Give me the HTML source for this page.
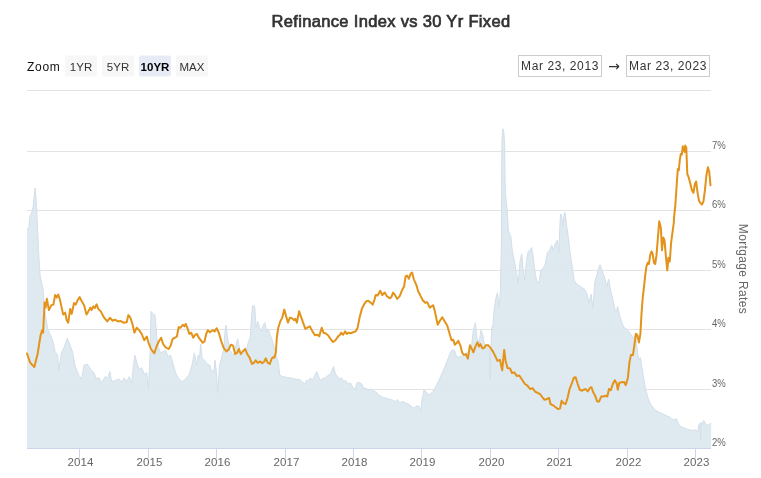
<!DOCTYPE html>
<html><head><meta charset="utf-8"><title>Refinance Index vs 30 Yr Fixed</title>
<style>html,body{margin:0;padding:0;background:#fff;width:761px;height:478px;overflow:hidden}</style></head>
<body>
<svg width="761" height="478" viewBox="0 0 761 478" style="position:absolute;left:0;top:0;font-family:'Liberation Sans','DejaVu Sans',sans-serif">
<rect width="761" height="478" fill="#fff"/>
<path d="M27 90.5 L711 90.5" stroke="#e3e3e3" stroke-width="1" fill="none"/>
<path d="M27 151.5 L711 151.5" stroke="#e3e3e3" stroke-width="1" fill="none"/>
<path d="M27 210.5 L711 210.5" stroke="#e3e3e3" stroke-width="1" fill="none"/>
<path d="M27 270.5 L711 270.5" stroke="#e3e3e3" stroke-width="1" fill="none"/>
<path d="M27 329.5 L711 329.5" stroke="#e3e3e3" stroke-width="1" fill="none"/>
<path d="M27 389.5 L711 389.5" stroke="#e3e3e3" stroke-width="1" fill="none"/>
<path d="M27.0 229.2 L29.0 227.7 L29.5 217.7 L31.3 213.9 L33.1 207.1 L34.3 195.1 L35.1 188.0 L35.8 195.1 L36.6 207.6 L37.6 230.3 L38.8 255.4 L40.1 275.5 L41.6 283.0 L42.6 285.5 L45.1 312.6 L47.6 328.9 L50.1 334.0 L52.6 340.2 L55.1 351.5 L57.7 355.3 L58.9 370.4 L61.4 352.8 L63.9 347.8 L67.2 338.2 L70.2 345.3 L72.7 352.8 L75.2 366.6 L79.0 375.4 L81.5 379.1 L84.0 365.3 L87.3 364.1 L90.3 369.1 L94.0 372.9 L96.6 379.1 L99.1 377.9 L101.6 382.9 L105.3 376.6 L107.9 377.9 L109.9 371.6 L111.6 381.7 L115.4 380.4 L119.1 379.1 L121.7 381.7 L124.2 377.9 L126.7 381.7 L129.2 376.6 L131.7 382.9 L133.5 365.3 L135.0 355.3 L136.7 362.8 L139.2 369.1 L141.7 367.9 L144.2 374.1 L146.8 372.9 L148.5 389.2 L150.0 355.3 L151.0 311.4 L153.0 313.9 L155.0 315.1 L156.8 337.7 L158.6 347.8 L160.6 352.8 L163.6 351.5 L165.6 350.3 L168.1 356.6 L170.6 355.3 L173.1 364.1 L175.6 372.9 L178.1 377.9 L181.9 381.7 L185.7 379.1 L189.4 374.1 L191.9 365.3 L194.4 352.8 L196.5 365.3 L198.2 355.3 L199.5 357.8 L200.7 344.0 L202.0 357.8 L204.5 360.3 L207.0 364.1 L210.0 365.3 L211.3 370.3 L213.8 371.6 L215.1 360.3 L216.6 375.3 L217.6 392.9 L219.6 365.3 L222.1 355.3 L223.8 349.0 L225.1 330.2 L226.1 325.1 L227.6 337.7 L229.6 349.0 L231.4 352.8 L233.9 355.3 L236.4 342.7 L237.7 338.9 L239.7 349.0 L241.4 355.3 L243.9 352.8 L246.4 350.2 L248.2 342.7 L250.2 337.7 L251.7 315.1 L252.7 305.6 L254.7 306.3 L256.2 327.7 L257.7 321.4 L259.7 327.7 L261.5 331.4 L263.3 325.1 L264.8 322.6 L266.5 331.4 L268.3 328.9 L270.3 335.2 L272.3 340.2 L274.0 347.7 L276.6 356.5 L278.3 362.8 L279.8 375.3 L282.8 376.6 L286.6 377.3 L290.4 377.9 L295.4 379.1 L300.4 379.9 L302.9 382.4 L304.9 384.1 L306.7 379.9 L308.4 381.6 L310.4 377.9 L312.4 380.4 L314.2 376.6 L316.7 371.6 L318.5 376.6 L320.5 380.4 L323.0 378.4 L325.5 377.9 L328.0 375.3 L330.5 374.1 L333.5 366.6 L335.5 374.1 L337.6 376.6 L339.3 379.1 L341.8 377.9 L343.6 381.6 L345.6 380.4 L348.1 384.1 L350.6 382.9 L353.1 387.9 L355.1 389.1 L356.9 382.9 L359.4 382.4 L361.9 384.1 L363.7 389.1 L365.7 387.9 L368.2 390.4 L370.7 389.1 L373.2 390.4 L375.7 391.7 L379.5 395.4 L383.2 397.4 L387.0 398.4 L390.0 399.4 L392.8 400.2 L395.3 401.5 L397.3 399.5 L399.8 402.8 L402.8 401.5 L405.3 402.8 L408.3 404.0 L411.6 406.5 L414.1 408.3 L416.6 405.8 L419.1 406.5 L420.9 410.3 L422.4 397.7 L423.9 390.2 L425.9 391.5 L427.9 394.7 L430.4 394.0 L432.9 391.5 L435.4 387.7 L438.4 381.4 L441.7 373.9 L445.0 366.4 L448.0 358.8 L451.0 351.3 L453.0 349.5 L455.0 351.3 L456.8 357.6 L460.5 356.3 L464.3 355.1 L466.8 352.6 L469.3 351.3 L471.6 345.3 L473.4 330.3 L475.4 322.8 L476.9 337.8 L479.1 342.8 L480.9 330.3 L482.9 335.3 L484.0 343.0 L487.0 347.0 L489.4 350.0 L490.2 380.0 L490.9 349.0 L491.8 328.0 L493.0 325.0 L493.9 312.5 L494.8 305.0 L496.0 297.7 L497.5 292.6 L499.0 307.7 L500.5 290.1 L500.6 280.2 L501.4 245.1 L501.6 195.3 L501.9 145.1 L502.4 132.6 L503.1 128.8 L503.9 132.6 L504.6 145.1 L505.1 182.8 L505.6 195.3 L507.1 209.1 L508.4 230.4 L510.9 236.7 L512.2 250.1 L514.7 262.7 L516.4 272.7 L518.2 282.8 L520.2 260.2 L521.7 253.9 L523.2 270.2 L524.7 280.2 L526.5 260.2 L528.2 251.4 L530.2 250.1 L531.7 247.6 L533.3 257.7 L534.8 270.2 L536.5 280.2 L539.0 282.8 L540.8 270.2 L542.8 268.9 L545.3 263.9 L547.3 252.6 L549.8 250.1 L551.6 245.1 L553.3 250.1 L555.3 243.8 L557.3 240.1 L558.9 252.6 L559.9 225.0 L560.6 214.1 L561.4 214.9 L562.9 225.4 L564.1 214.1 L565.1 212.4 L566.6 225.4 L568.4 238.0 L570.4 255.1 L572.4 267.7 L574.2 280.2 L576.7 284.0 L580.4 286.5 L584.2 289.0 L586.7 292.8 L589.2 302.8 L591.0 294.0 L593.0 307.9 L594.7 282.8 L596.8 275.2 L598.5 268.9 L600.0 264.7 L601.8 270.2 L604.3 276.5 L606.8 286.5 L608.6 279.0 L610.6 290.3 L613.1 300.3 L615.6 312.9 L617.6 306.6 L619.3 314.1 L621.9 322.9 L624.4 327.9 L626.9 329.2 L630.6 334.2 L633.2 338.0 L635.4 335.0 L637.9 355.1 L639.1 360.1 L640.4 357.6 L642.4 370.2 L644.2 381.5 L645.9 390.2 L647.9 397.8 L649.9 402.8 L652.4 406.6 L655.5 410.3 L659.2 412.3 L663.0 414.1 L666.8 415.8 L670.0 417.3 L671.8 419.1 L674.3 419.9 L676.3 418.4 L678.1 422.9 L680.6 426.6 L684.3 427.9 L688.1 429.6 L691.9 430.4 L695.6 429.9 L697.6 431.7 L699.1 424.1 L700.1 423.4 L700.6 440.4 L701.1 422.4 L702.1 424.9 L703.7 420.4 L705.7 424.1 L708.2 425.4 L710.2 423.4 L711.2 423.4 L711.2 448.5 L27.0 448.5 Z" fill="rgb(219,231,238)" fill-opacity="0.9" stroke="none"/>
<path d="M27.0 229.2 L29.0 227.7 L29.5 217.7 L31.3 213.9 L33.1 207.1 L34.3 195.1 L35.1 188.0 L35.8 195.1 L36.6 207.6 L37.6 230.3 L38.8 255.4 L40.1 275.5 L41.6 283.0 L42.6 285.5 L45.1 312.6 L47.6 328.9 L50.1 334.0 L52.6 340.2 L55.1 351.5 L57.7 355.3 L58.9 370.4 L61.4 352.8 L63.9 347.8 L67.2 338.2 L70.2 345.3 L72.7 352.8 L75.2 366.6 L79.0 375.4 L81.5 379.1 L84.0 365.3 L87.3 364.1 L90.3 369.1 L94.0 372.9 L96.6 379.1 L99.1 377.9 L101.6 382.9 L105.3 376.6 L107.9 377.9 L109.9 371.6 L111.6 381.7 L115.4 380.4 L119.1 379.1 L121.7 381.7 L124.2 377.9 L126.7 381.7 L129.2 376.6 L131.7 382.9 L133.5 365.3 L135.0 355.3 L136.7 362.8 L139.2 369.1 L141.7 367.9 L144.2 374.1 L146.8 372.9 L148.5 389.2 L150.0 355.3 L151.0 311.4 L153.0 313.9 L155.0 315.1 L156.8 337.7 L158.6 347.8 L160.6 352.8 L163.6 351.5 L165.6 350.3 L168.1 356.6 L170.6 355.3 L173.1 364.1 L175.6 372.9 L178.1 377.9 L181.9 381.7 L185.7 379.1 L189.4 374.1 L191.9 365.3 L194.4 352.8 L196.5 365.3 L198.2 355.3 L199.5 357.8 L200.7 344.0 L202.0 357.8 L204.5 360.3 L207.0 364.1 L210.0 365.3 L211.3 370.3 L213.8 371.6 L215.1 360.3 L216.6 375.3 L217.6 392.9 L219.6 365.3 L222.1 355.3 L223.8 349.0 L225.1 330.2 L226.1 325.1 L227.6 337.7 L229.6 349.0 L231.4 352.8 L233.9 355.3 L236.4 342.7 L237.7 338.9 L239.7 349.0 L241.4 355.3 L243.9 352.8 L246.4 350.2 L248.2 342.7 L250.2 337.7 L251.7 315.1 L252.7 305.6 L254.7 306.3 L256.2 327.7 L257.7 321.4 L259.7 327.7 L261.5 331.4 L263.3 325.1 L264.8 322.6 L266.5 331.4 L268.3 328.9 L270.3 335.2 L272.3 340.2 L274.0 347.7 L276.6 356.5 L278.3 362.8 L279.8 375.3 L282.8 376.6 L286.6 377.3 L290.4 377.9 L295.4 379.1 L300.4 379.9 L302.9 382.4 L304.9 384.1 L306.7 379.9 L308.4 381.6 L310.4 377.9 L312.4 380.4 L314.2 376.6 L316.7 371.6 L318.5 376.6 L320.5 380.4 L323.0 378.4 L325.5 377.9 L328.0 375.3 L330.5 374.1 L333.5 366.6 L335.5 374.1 L337.6 376.6 L339.3 379.1 L341.8 377.9 L343.6 381.6 L345.6 380.4 L348.1 384.1 L350.6 382.9 L353.1 387.9 L355.1 389.1 L356.9 382.9 L359.4 382.4 L361.9 384.1 L363.7 389.1 L365.7 387.9 L368.2 390.4 L370.7 389.1 L373.2 390.4 L375.7 391.7 L379.5 395.4 L383.2 397.4 L387.0 398.4 L390.0 399.4 L392.8 400.2 L395.3 401.5 L397.3 399.5 L399.8 402.8 L402.8 401.5 L405.3 402.8 L408.3 404.0 L411.6 406.5 L414.1 408.3 L416.6 405.8 L419.1 406.5 L420.9 410.3 L422.4 397.7 L423.9 390.2 L425.9 391.5 L427.9 394.7 L430.4 394.0 L432.9 391.5 L435.4 387.7 L438.4 381.4 L441.7 373.9 L445.0 366.4 L448.0 358.8 L451.0 351.3 L453.0 349.5 L455.0 351.3 L456.8 357.6 L460.5 356.3 L464.3 355.1 L466.8 352.6 L469.3 351.3 L471.6 345.3 L473.4 330.3 L475.4 322.8 L476.9 337.8 L479.1 342.8 L480.9 330.3 L482.9 335.3 L484.0 343.0 L487.0 347.0 L489.4 350.0 L490.2 380.0 L490.9 349.0 L491.8 328.0 L493.0 325.0 L493.9 312.5 L494.8 305.0 L496.0 297.7 L497.5 292.6 L499.0 307.7 L500.5 290.1 L500.6 280.2 L501.4 245.1 L501.6 195.3 L501.9 145.1 L502.4 132.6 L503.1 128.8 L503.9 132.6 L504.6 145.1 L505.1 182.8 L505.6 195.3 L507.1 209.1 L508.4 230.4 L510.9 236.7 L512.2 250.1 L514.7 262.7 L516.4 272.7 L518.2 282.8 L520.2 260.2 L521.7 253.9 L523.2 270.2 L524.7 280.2 L526.5 260.2 L528.2 251.4 L530.2 250.1 L531.7 247.6 L533.3 257.7 L534.8 270.2 L536.5 280.2 L539.0 282.8 L540.8 270.2 L542.8 268.9 L545.3 263.9 L547.3 252.6 L549.8 250.1 L551.6 245.1 L553.3 250.1 L555.3 243.8 L557.3 240.1 L558.9 252.6 L559.9 225.0 L560.6 214.1 L561.4 214.9 L562.9 225.4 L564.1 214.1 L565.1 212.4 L566.6 225.4 L568.4 238.0 L570.4 255.1 L572.4 267.7 L574.2 280.2 L576.7 284.0 L580.4 286.5 L584.2 289.0 L586.7 292.8 L589.2 302.8 L591.0 294.0 L593.0 307.9 L594.7 282.8 L596.8 275.2 L598.5 268.9 L600.0 264.7 L601.8 270.2 L604.3 276.5 L606.8 286.5 L608.6 279.0 L610.6 290.3 L613.1 300.3 L615.6 312.9 L617.6 306.6 L619.3 314.1 L621.9 322.9 L624.4 327.9 L626.9 329.2 L630.6 334.2 L633.2 338.0 L635.4 335.0 L637.9 355.1 L639.1 360.1 L640.4 357.6 L642.4 370.2 L644.2 381.5 L645.9 390.2 L647.9 397.8 L649.9 402.8 L652.4 406.6 L655.5 410.3 L659.2 412.3 L663.0 414.1 L666.8 415.8 L670.0 417.3 L671.8 419.1 L674.3 419.9 L676.3 418.4 L678.1 422.9 L680.6 426.6 L684.3 427.9 L688.1 429.6 L691.9 430.4 L695.6 429.9 L697.6 431.7 L699.1 424.1 L700.1 423.4 L700.6 440.4 L701.1 422.4 L702.1 424.9 L703.7 420.4 L705.7 424.1 L708.2 425.4 L710.2 423.4 L711.2 423.4" fill="none" stroke="#d3dfea" stroke-width="1" stroke-linejoin="round"/>
<path d="M27.0 353.5 L30.0 362.3 L34.3 367.1 L37.6 354.0 L40.6 335.2 L42.1 330.2 L43.1 332.7 L44.6 302.6 L45.6 307.6 L46.9 298.8 L48.9 310.1 L51.4 305.1 L53.4 304.6 L55.1 295.1 L56.6 297.6 L58.2 294.6 L59.7 298.8 L61.4 306.4 L63.2 314.6 L65.2 312.6 L66.7 320.2 L68.2 322.7 L70.2 308.9 L71.7 313.9 L74.0 303.1 L75.7 304.6 L77.7 300.1 L79.7 297.1 L81.7 301.3 L84.0 305.1 L86.5 314.6 L88.3 311.4 L90.3 307.6 L91.5 310.1 L93.3 306.4 L94.8 308.1 L96.6 304.3 L98.3 308.9 L100.8 311.4 L104.1 317.7 L107.3 321.4 L109.9 317.7 L112.4 320.7 L114.9 319.7 L117.9 321.4 L120.4 320.9 L123.4 322.7 L126.7 322.2 L128.4 315.1 L130.4 317.7 L132.4 323.9 L134.5 332.7 L136.7 327.7 L139.2 330.2 L141.7 334.0 L144.2 340.2 L146.8 336.5 L148.5 342.8 L151.0 349.0 L154.3 353.3 L156.8 345.8 L158.8 341.5 L161.1 337.7 L163.1 344.0 L165.6 347.3 L168.6 349.0 L170.6 345.8 L172.6 339.0 L175.1 337.7 L176.9 336.5 L178.6 327.2 L180.6 327.7 L182.7 324.7 L184.4 326.4 L185.7 323.9 L187.7 328.9 L189.4 334.0 L191.2 332.7 L193.2 337.7 L195.2 334.7 L197.0 334.0 L198.7 337.7 L200.7 340.2 L202.7 342.8 L204.5 341.5 L206.2 334.0 L207.8 330.2 L210.0 332.2 L212.6 330.2 L214.6 331.4 L216.6 328.2 L218.8 332.7 L221.3 341.5 L223.8 348.2 L226.4 351.5 L228.9 349.0 L230.9 344.7 L233.1 345.7 L235.1 354.0 L237.1 352.8 L238.9 349.0 L240.7 354.0 L242.7 351.5 L245.2 349.0 L247.2 354.0 L249.7 357.8 L252.0 364.0 L254.0 362.8 L255.7 360.3 L257.7 362.8 L260.2 361.5 L262.2 363.3 L264.3 361.5 L265.8 358.3 L267.8 362.8 L269.8 364.0 L271.5 359.0 L272.8 357.3 L274.3 357.8 L275.8 352.8 L276.8 337.7 L278.3 327.7 L280.3 321.4 L282.3 317.6 L284.3 309.6 L285.8 315.1 L287.9 322.6 L289.9 317.6 L291.9 318.1 L293.9 320.1 L295.4 318.9 L296.9 322.6 L299.1 311.3 L300.9 316.4 L302.9 322.1 L305.4 328.9 L307.4 327.7 L309.9 326.4 L312.4 331.4 L315.0 335.2 L317.5 334.7 L319.2 336.4 L321.7 327.7 L323.5 332.7 L325.5 333.2 L328.0 335.2 L330.5 338.9 L333.0 342.0 L335.5 340.2 L338.1 336.4 L339.6 335.2 L341.1 332.7 L343.1 334.7 L345.1 331.4 L346.8 333.9 L348.6 332.7 L350.6 333.2 L353.1 332.2 L355.6 331.4 L357.6 327.7 L359.6 317.6 L361.9 308.8 L364.4 303.8 L366.2 301.3 L368.2 300.8 L370.7 302.6 L372.7 304.6 L374.4 300.0 L375.7 295.0 L377.7 295.5 L380.2 290.8 L382.2 295.0 L384.7 292.5 L387.0 296.3 L390.0 298.3 L391.3 297.1 L393.1 292.6 L395.1 295.1 L397.1 298.9 L399.6 296.4 L402.1 290.1 L404.1 286.4 L405.6 276.3 L407.1 275.6 L408.9 278.8 L410.6 273.8 L412.1 272.6 L413.9 279.6 L416.4 285.1 L418.2 291.4 L420.2 295.1 L422.7 300.2 L425.2 302.7 L427.2 302.2 L429.7 307.7 L431.5 306.4 L433.2 305.2 L435.2 312.7 L437.7 324.8 L440.2 320.2 L442.2 317.2 L444.8 321.5 L447.3 325.8 L449.3 332.8 L451.5 340.3 L453.3 339.8 L454.8 344.8 L456.8 342.8 L458.3 340.8 L460.3 345.3 L462.3 352.9 L464.1 354.9 L465.8 354.1 L467.9 358.6 L469.9 345.3 L471.6 348.4 L473.4 352.4 L475.4 346.6 L477.4 342.3 L479.1 346.6 L480.4 344.1 L482.4 348.4 L484.2 347.9 L485.9 345.3 L488.4 345.3 L490.4 347.9 L493.0 351.6 L495.5 356.6 L497.5 360.9 L500.0 359.9 L502.2 370.4 L504.2 349.9 L505.5 360.4 L507.5 367.9 L510.0 368.4 L512.0 373.0 L514.3 372.4 L516.8 376.0 L519.3 375.5 L521.8 379.2 L524.9 384.0 L527.4 385.7 L530.0 389.0 L532.5 388.2 L535.0 391.5 L537.5 392.8 L540.0 394.0 L542.5 397.3 L544.5 399.8 L547.0 399.0 L549.0 397.8 L550.5 404.0 L553.1 405.3 L555.6 407.3 L558.1 409.1 L560.1 408.3 L561.6 400.8 L563.6 403.3 L565.6 404.0 L567.6 397.8 L569.6 389.0 L572.1 382.7 L573.9 377.7 L575.6 377.2 L577.7 384.0 L579.7 389.7 L582.2 390.7 L583.9 389.7 L585.7 389.0 L587.7 391.5 L589.7 388.2 L591.5 387.2 L593.2 392.2 L595.2 395.8 L597.2 401.5 L599.2 401.5 L601.2 396.5 L603.3 396.5 L605.3 395.8 L607.3 396.5 L609.0 389.0 L610.8 390.2 L612.8 384.0 L614.8 380.2 L616.6 383.2 L617.8 389.7 L619.3 382.7 L621.6 382.2 L624.1 382.0 L625.8 385.2 L627.9 377.7 L629.4 362.6 L630.9 355.1 L632.9 355.1 L634.4 345.1 L635.9 333.8 L637.4 335.0 L638.9 342.6 L640.4 333.8 L641.4 315.5 L642.7 297.9 L643.9 287.9 L645.2 275.3 L646.4 266.5 L647.7 262.8 L648.9 264.0 L650.2 255.2 L651.5 251.5 L652.7 254.0 L654.0 262.8 L655.2 264.0 L656.5 255.2 L657.7 240.2 L659.2 221.3 L660.8 227.6 L662.0 250.2 L663.3 237.6 L664.5 240.2 L665.8 255.2 L667.3 270.3 L668.5 257.7 L669.8 261.5 L671.1 242.7 L672.3 233.9 L673.8 222.6 L674.0 217.9 L675.3 205.4 L676.5 187.8 L677.8 168.9 L678.8 170.2 L679.8 160.2 L680.8 153.9 L681.8 154.6 L682.8 146.3 L683.8 148.8 L684.6 152.1 L685.3 145.6 L686.3 147.6 L687.3 174.0 L688.8 177.7 L690.4 184.0 L691.9 190.3 L693.4 192.8 L694.9 184.0 L696.1 181.5 L697.4 191.6 L698.9 200.4 L700.4 202.9 L701.9 204.6 L703.4 201.6 L704.9 190.3 L706.4 175.2 L707.9 167.2 L709.2 171.5 L710.5 185.3" fill="none" stroke="#e3931a" stroke-width="2" stroke-linejoin="round" stroke-linecap="round"/>
<path d="M27 448.5 L711 448.5" stroke="#ccd6eb" stroke-width="1" fill="none"/>
<path d="M79.5 448.5 L79.5 458.5" stroke="#ccd6eb" stroke-width="1" fill="none"/>
<text x="80.5" y="466" text-anchor="middle" font-size="11.5" letter-spacing="0.15" fill="#666">2014</text>
<path d="M148.5 448.5 L148.5 458.5" stroke="#ccd6eb" stroke-width="1" fill="none"/>
<text x="149.5" y="466" text-anchor="middle" font-size="11.5" letter-spacing="0.15" fill="#666">2015</text>
<path d="M216.5 448.5 L216.5 458.5" stroke="#ccd6eb" stroke-width="1" fill="none"/>
<text x="217.5" y="466" text-anchor="middle" font-size="11.5" letter-spacing="0.15" fill="#666">2016</text>
<path d="M285.5 448.5 L285.5 458.5" stroke="#ccd6eb" stroke-width="1" fill="none"/>
<text x="286.5" y="466" text-anchor="middle" font-size="11.5" letter-spacing="0.15" fill="#666">2017</text>
<path d="M353.5 448.5 L353.5 458.5" stroke="#ccd6eb" stroke-width="1" fill="none"/>
<text x="354.5" y="466" text-anchor="middle" font-size="11.5" letter-spacing="0.15" fill="#666">2018</text>
<path d="M421.5 448.5 L421.5 458.5" stroke="#ccd6eb" stroke-width="1" fill="none"/>
<text x="422.5" y="466" text-anchor="middle" font-size="11.5" letter-spacing="0.15" fill="#666">2019</text>
<path d="M490.5 448.5 L490.5 458.5" stroke="#ccd6eb" stroke-width="1" fill="none"/>
<text x="491.5" y="466" text-anchor="middle" font-size="11.5" letter-spacing="0.15" fill="#666">2020</text>
<path d="M558.5 448.5 L558.5 458.5" stroke="#ccd6eb" stroke-width="1" fill="none"/>
<text x="559.5" y="466" text-anchor="middle" font-size="11.5" letter-spacing="0.15" fill="#666">2021</text>
<path d="M627.5 448.5 L627.5 458.5" stroke="#ccd6eb" stroke-width="1" fill="none"/>
<text x="628.5" y="466" text-anchor="middle" font-size="11.5" letter-spacing="0.15" fill="#666">2022</text>
<path d="M695.5 448.5 L695.5 458.5" stroke="#ccd6eb" stroke-width="1" fill="none"/>
<text x="696.5" y="466" text-anchor="middle" font-size="11.5" letter-spacing="0.15" fill="#666">2023</text>
<text x="712" y="149.0" font-size="11" fill="#666" textLength="13.8" lengthAdjust="spacingAndGlyphs">7%</text>
<text x="712" y="208.0" font-size="11" fill="#666" textLength="13.8" lengthAdjust="spacingAndGlyphs">6%</text>
<text x="712" y="268.0" font-size="11" fill="#666" textLength="13.8" lengthAdjust="spacingAndGlyphs">5%</text>
<text x="712" y="327.0" font-size="11" fill="#666" textLength="13.8" lengthAdjust="spacingAndGlyphs">4%</text>
<text x="712" y="387.0" font-size="11" fill="#666" textLength="13.8" lengthAdjust="spacingAndGlyphs">3%</text>
<text x="712" y="446.0" font-size="11" fill="#666" textLength="13.8" lengthAdjust="spacingAndGlyphs">2%</text>
<text x="0" y="0" transform="translate(738.5,269) rotate(90)" text-anchor="middle" font-size="12" letter-spacing="0.35" fill="#666">Mortgage Rates</text>
<text x="391" y="27" text-anchor="middle" font-size="16.5" fill="#333" stroke="#333" stroke-width="0.7" letter-spacing="0.33">Refinance Index vs 30 Yr Fixed</text>
<text x="27" y="71" font-size="12" letter-spacing="0.7" fill="#111">Zoom</text>
<rect x="65" y="55.5" width="32" height="21" rx="2" fill="#f7f7f7"/>
<text x="81" y="71" text-anchor="middle" font-size="11.5" fill="#333">1YR</text>
<rect x="102" y="55.5" width="32" height="21" rx="2" fill="#f7f7f7"/>
<text x="118" y="71" text-anchor="middle" font-size="11.5" fill="#333">5YR</text>
<rect x="139" y="55.5" width="32" height="21" rx="2" fill="#e6ebf5"/>
<text x="155" y="71" text-anchor="middle" font-size="11.5" fill="#000" font-weight="bold">10YR</text>
<rect x="176" y="55.5" width="32" height="21" rx="2" fill="#f7f7f7"/>
<text x="192" y="71" text-anchor="middle" font-size="11.5" fill="#333">MAX</text>
<rect x="518.5" y="55.5" width="83" height="21" fill="#fff" stroke="#ccc" stroke-width="1"/>
<text x="560.0" y="70" text-anchor="middle" font-size="12" fill="#333" letter-spacing="0.6">Mar 23, 2013</text>
<rect x="626.5" y="55.5" width="83" height="21" fill="#fff" stroke="#ccc" stroke-width="1"/>
<text x="668.0" y="70" text-anchor="middle" font-size="12" fill="#333" letter-spacing="0.6">Mar 23, 2023</text>
<text x="614" y="71" text-anchor="middle" font-size="14" font-family="'DejaVu Sans','Liberation Sans',sans-serif" fill="#333">→</text>
</svg>
</body></html>
